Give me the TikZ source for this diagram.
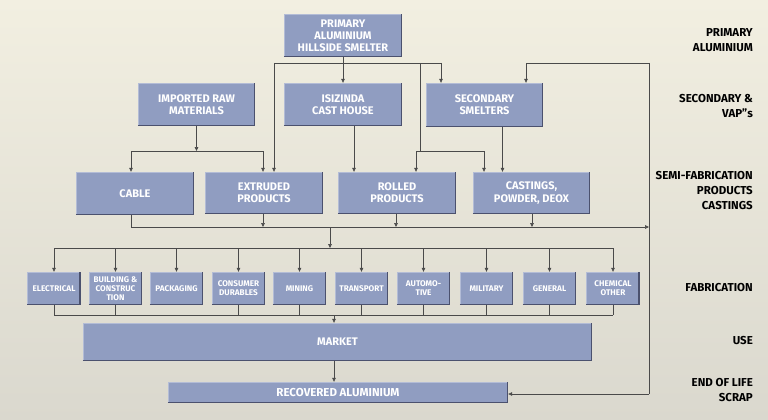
\documentclass[tikz,border=0pt]{standalone}
\usepackage{fontspec}
\setmainfont{Fira Sans}
\usetikzlibrary{arrows.meta}
\definecolor{bgtop}{HTML}{F2EFE1}
\definecolor{bgbot}{HTML}{DAD8CE}
\definecolor{boxfill}{HTML}{909DC1}
\definecolor{boxlight}{HTML}{B3BCD6}
\definecolor{boxdark}{HTML}{4B516E}
\definecolor{linec}{HTML}{4A4A4A}
\tikzset{
  box/.style={fill=boxfill, text=white, font=\bfseries\fontsize{11}{12.2}\selectfont,
    align=center, inner sep=0pt, minimum height=43pt, minimum width=118pt},
  fbox/.style={box, minimum width=53pt, minimum height=33pt, font=\bfseries\fontsize{8.2}{9}\selectfont},
  lab/.style={font=\bfseries\fontsize{11.5}{15}\selectfont, align=right, anchor=east, inner sep=0pt, text=black},
  ln/.style={draw=linec, line width=0.6pt},
  arr/.style={ln, -{Triangle[length=4pt,width=3.6pt]}},
  darkedge/.style={draw=boxdark, line width=1.6pt},
  lightedge/.style={draw=boxlight, line width=0.9pt},
}
\begin{document}
\begin{tikzpicture}[x=1pt,y=-1pt]
\shade[top color=bgtop, bottom color=bgbot] (0,0) rectangle (768,420);
\useasboundingbox (0,0) rectangle (768,420);

% right labels
\node[lab] (l1) at (753,40.5) {PRIMARY\\ALUMINIUM};
\node[lab] (l2) at (753,106.5) {SECONDARY \&\\VAP”s};
\node[lab] (l3) at (753,191) {SEMI-FABRICATION\\PRODUCTS\\CASTINGS};
\node[lab] (l4) at (753,288) {FABRICATION};
\node[lab] (l5) at (753,341) {USE};
\node[lab] (l6) at (753,390) {END OF LIFE\\SCRAP};

% top boxes
\node[box] (prim) at (343,35.5) {PRIMARY\\ALUMINIUM\\HILLSIDE SMELTER};
\node[box, minimum width=117pt] (imp) at (196.5,104.5) {IMPORTED RAW\\MATERIALS};
\node[box] (isi) at (343,104.5) {ISIZINDA\\CAST HOUSE};
\node[box, minimum width=117pt, minimum height=44pt] (sec) at (484.5,105) {SECONDARY\\SMELTERS};

% semi-fab
\node[box] (cable) at (135,193.5) {CABLE};
\node[box, minimum height=42pt] (extr) at (264,193) {EXTRUDED\\PRODUCTS};
\node[box, minimum height=42pt] (roll) at (397,193) {ROLLED\\PRODUCTS};
\node[box, minimum width=117pt, minimum height=42pt] (cast) at (531.5,193) {CASTINGS,\\POWDER, DEOX};

% fabrication
\node[fbox] (f1) at (54,288.5) {ELECTRICAL};
\node[fbox] (f2) at (115.5,288.5) {BUILDING \&\\CONSTRUC\\TION};
\node[fbox] (f3) at (176.5,288.5) {PACKAGING};
\node[fbox] (f4) at (238.5,288.5) {CONSUMER\\DURABLES};
\node[fbox] (f5) at (299.5,288.5) {MINING};
\node[fbox] (f6) at (361.5,288.5) {TRANSPORT};
\node[fbox] (f7) at (423.5,288.5) {AUTOMO-\\TIVE};
\node[fbox] (f8) at (486.5,288.5) {MILITARY};
\node[fbox] (f9) at (549.5,288.5) {GENERAL};
\node[fbox] (f10) at (613,288.5) {CHEMICAL\\OTHER};

% market / recovered
\node[box, minimum width=509pt, minimum height=38pt] (mkt) at (337.5,342) {MARKET};
\node[box, minimum width=340pt, minimum height=21pt, font=\bfseries\fontsize{11.5}{12}\selectfont] (rec) at (338,392.5) {RECOVERED ALUMINIUM};

% bevel edges
\foreach \n in {prim,imp,isi,sec,cable,extr,roll,cast,f1,f2,f3,f4,f5,f6,f7,f8,f9,f10,mkt,rec}{
  \draw[lightedge] ([xshift=0.45pt,yshift=1pt]\n.south west) -- ([xshift=0.45pt,yshift=-0.45pt]\n.north west) -- ([xshift=-1.5pt,yshift=-0.45pt]\n.north east);
  \draw[darkedge] ([yshift=0.8pt]\n.south west) -- ([xshift=-0.8pt,yshift=0.8pt]\n.south east) -- ([xshift=-0.8pt]\n.north east);
}

% junction coordinates
\coordinate (pa) at (274,63);
\coordinate (pb) at (441,63);
\coordinate (pc) at (420,63);
\coordinate (pd) at (416,151);
\coordinate (pe) at (484,151);
\coordinate (ia) at (131,151);
\coordinate (ib) at (263,151);
\coordinate (sa) at (131,227);
\coordinate (sb) at (649,227);
\coordinate (fa) at (330,227);
\coordinate (fl) at (54,248);
\coordinate (fr) at (613,248);
\coordinate (ga) at (54,315);
\coordinate (gb) at (613,315);
\coordinate (gm) at (334,315);
\coordinate (ra) at (649,63);
\coordinate (rb) at (526,63);
\coordinate (rc) at (649,394);

% primary connections
\draw[arr] (prim.south) -- (isi.north);
\draw[ln] (pa) -- (pb);
\draw[arr] (pa) -- (pa |- extr.north);
\draw[arr] (pb) -- (pb |- sec.north);
\draw[ln] (pc) -- (pc |- pd);
\draw[ln] (pd) -- (pe);
\draw[arr] (pd) -- (pd |- roll.north);
\draw[arr] (pe) -- (pe |- cast.north);

% imported raw
\draw[arr] (imp.south) -- (imp.south |- ia);
\draw[ln] (ia) -- (ib);
\draw[arr] (ia) -- (ia |- cable.north);
\draw[arr] (ib) -- (ib |- extr.north);

% isizinda, secondary
\draw[arr] ([xshift=11pt]isi.south) -- ([xshift=11pt]isi.south |- roll.north);
\draw[arr] ([xshift=18pt]sec.south) -- ([xshift=18pt]sec.south |- cast.north);

% semi-fab collection
\draw[ln] (cable.south -| sa) -- (sa);
\draw[arr] (sa) -- (sb);
\draw[arr] ([xshift=-1pt]extr.south) -- ([xshift=-1pt]extr.south |- sa);
\draw[arr] ([xshift=-1pt]roll.south) -- ([xshift=-1pt]roll.south |- sa);
\draw[arr] ([xshift=0.5pt]cast.south) -- ([xshift=0.5pt]cast.south |- sa);
\draw[arr] (fa) -- (fa |- fl);

% fabrication distribution
\draw[ln] (fl) -- (fr);
\foreach \n in {f1,f2,f3,f4,f5,f6,f7,f8,f9,f10}{
  \draw[arr] (\n.north |- fl) -- (\n.north);
}
% fabrication collection (no line under packaging)
\draw[ln] (ga) -- (gb);
\foreach \n in {f1,f2,f4,f5,f6,f7,f8,f9,f10}{
  \draw[ln] (\n.south) -- (\n.south |- ga);
}
\draw[arr] (gm) -- (gm |- mkt.north);
\draw[arr] (mkt.south -| gm) -- (rec.north -| gm);

% recycling loop
\draw[ln] (ra) -- (rc);
\draw[arr] (rc) -- (rc -| rec.east);
\draw[arr] (ra) -- (rb) -- (rb |- sec.north);
\end{tikzpicture}
\end{document}
